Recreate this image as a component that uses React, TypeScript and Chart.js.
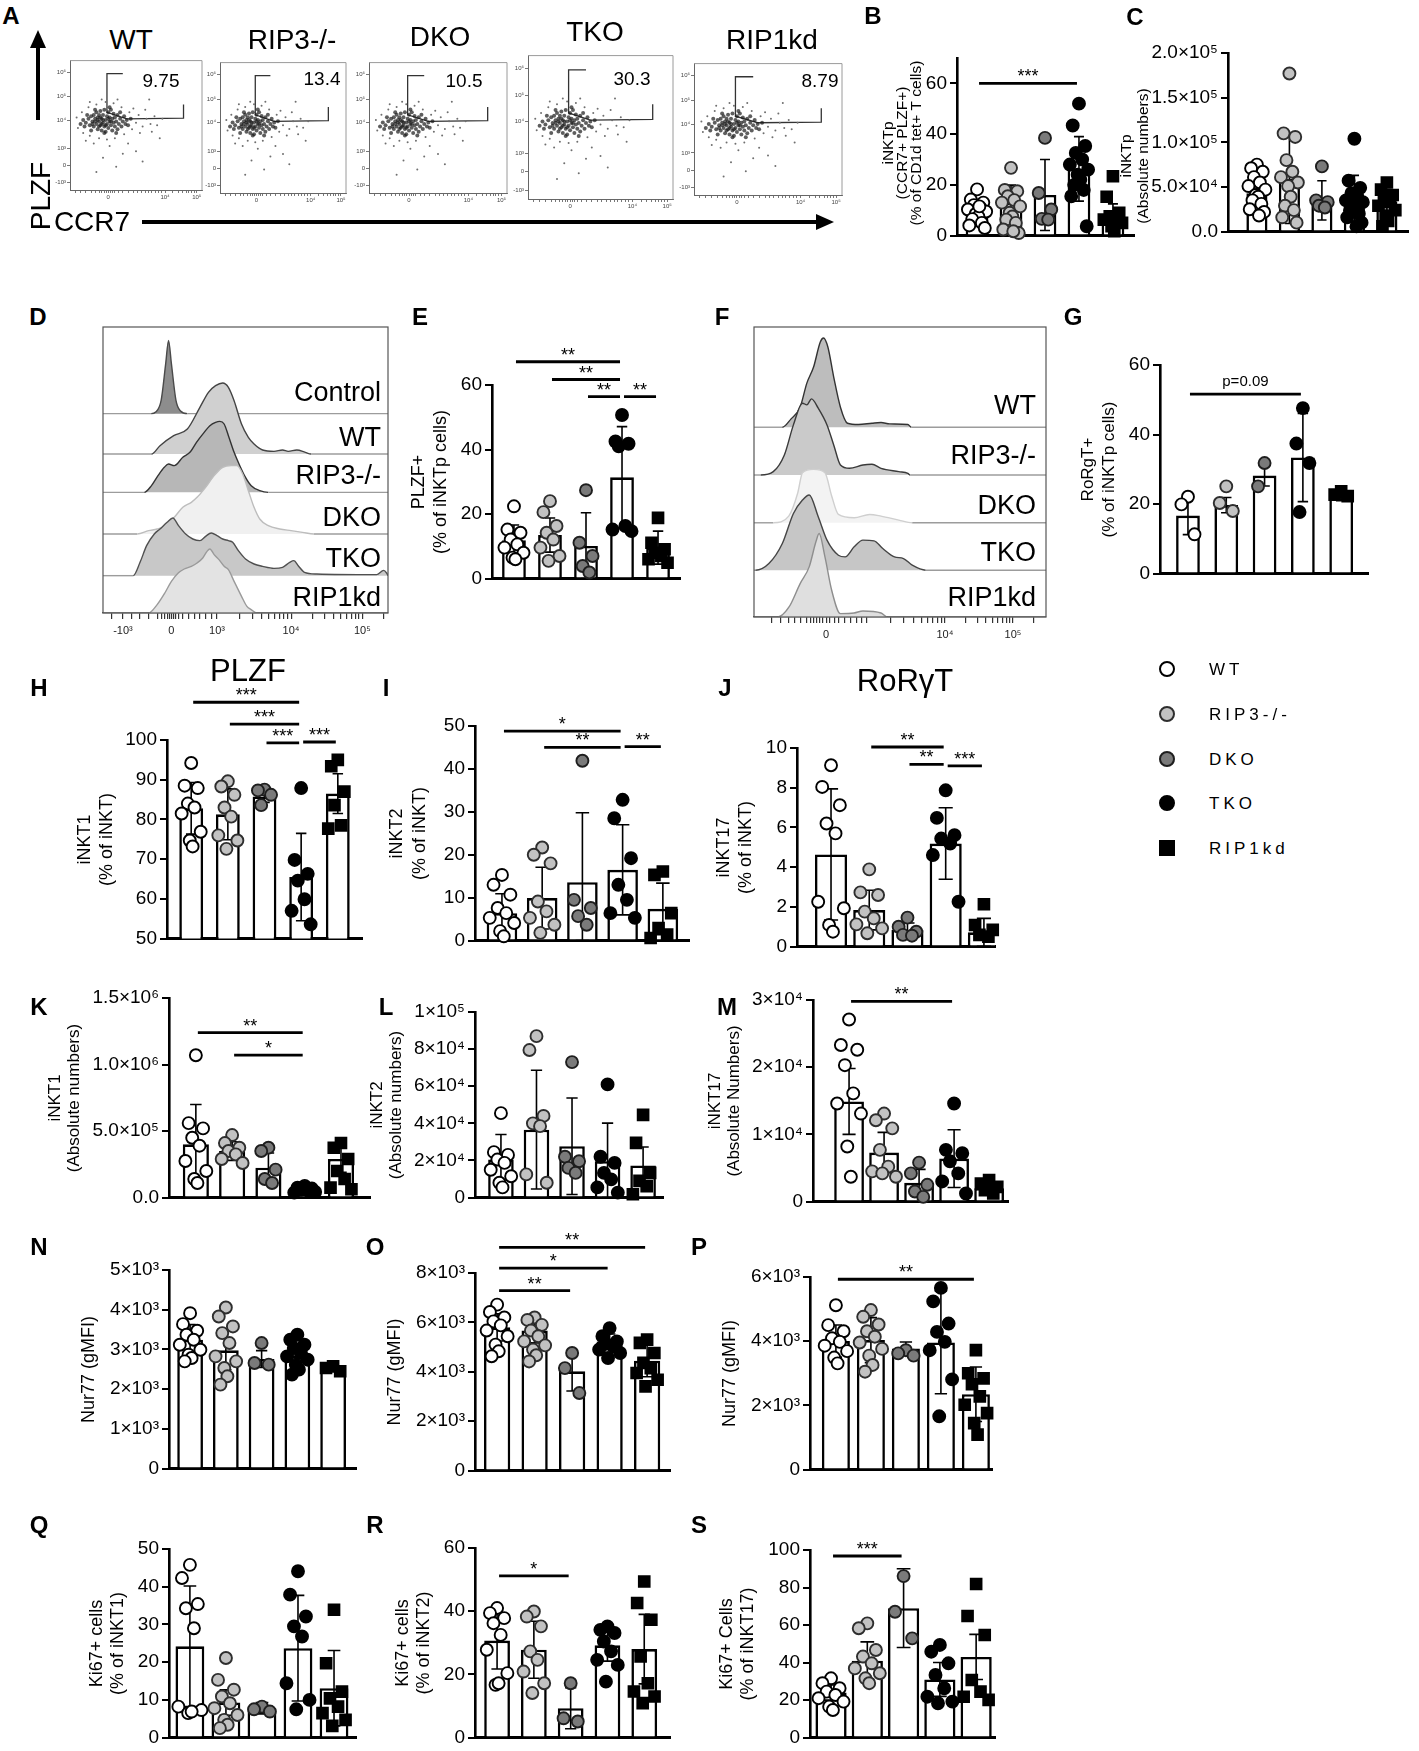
import React, { useEffect, useRef } from "react";
import { Chart, registerables } from "chart.js";

Chart.register(...registerables);

const FONT = "'Liberation Sans', Arial, Helvetica, sans-serif";
Chart.defaults.font.family = FONT;
Chart.defaults.color = "#000";

const GROUPS = ["WT", "RIP3-/-", "DKO", "TKO", "RIP1kd"];

// ---------- bar panels: means, SD, individual mice, significance ----------
const B_MEAN = [10.3, 12.9, 16.0, 26.3, 8.0];
const B_SD = [4.0, 7.0, 14.0, 12.7, 4.5];
const B_PTS = [
  [18.2, 14.2, 13, 12, 11, 10.3, 9.5, 8.5, 7.5, 6.5, 5, 4, 3, 11.5],
  [26.7, 18, 17.5, 15.5, 14, 13, 11.5, 9, 7.5, 6.3, 5, 2.4, 1, 1.7],
  [38.5, 16.8, 10.3, 6.6, 6.3],
  [52, 43.4, 35.3, 32.6, 30, 28, 26, 24, 22, 20, 18, 15.5, 3.7],
  [23.4, 15.3, 9, 7.6, 7, 6.3, 5, 3.7, 1.7],
];
const B_SIG = [[0, 3, 60, "***"]];
const B_TICKS = [0, 20, 40, 60];
const B_LABELS = ["0", "20", "40", "60"];

const C_MEAN = [4.3e4, 5.9e4, 3.5e4, 3.4e4, 3.4e4];
const C_SD = [1.2e4, 5.0e4, 2.2e4, 2.9e4, 1.3e4];
const C_PTS = [
  [7.5e4, 7.1e4, 6.7e4, 6.1e4, 5.5e4, 5.1e4, 4.7e4, 4.1e4, 3.9e4, 3.5e4, 3.1e4, 2.5e4, 2.2e4, 1.8e4],
  [1.77e5, 1.1e5, 1.06e5, 8.0e4, 6.7e4, 6.1e4, 5.5e4, 5.1e4, 3.9e4, 2.9e4, 2.4e4, 1.6e4, 1.0e4],
  [7.3e4, 3.5e4, 3.3e4, 2.9e4, 2.7e4],
  [1.04e5, 5.7e4, 4.9e4, 4.3e4, 3.9e4, 3.5e4, 3.3e4, 3.1e4, 2.7e4, 2.4e4, 2.0e4, 1.6e4, 1.0e4, 6e3],
  [5.5e4, 4.7e4, 4.1e4, 3.7e4, 3.3e4, 2.9e4, 2.4e4, 1.8e4, 1.2e4, 6e3],
];
const C_TICKS = [0, 5e4, 1e5, 1.5e5, 2e5];
const C_LABELS = ["0.0", "5.0×10⁴", "1.0×10⁵", "1.5×10⁵", "2.0×10⁵"];

const E_MEAN = [11.9, 13.5, 10.1, 31.4, 9.6];
const E_SD = [4.7, 5.3, 10.3, 15.7, 5.1];
const E_PTS = [
  [22.4, 15.2, 14.2, 12.1, 10.6, 9.6, 8, 6.5, 6],
  [24, 20.6, 16.3, 14.2, 12.1, 9.6, 7, 5.5],
  [27.4, 11.1, 7, 3.9, 1.9],
  [50.7, 42.5, 41.8, 41, 16.3, 15.2, 14.7],
  [18.8, 11.1, 9.1, 8, 7, 6, 4.9],
];
const E_SIG = [[0, 3, 67.2, "**"], [1, 3, 61.7, "**"], [2, 3, 56.4, "**"], [3, 4, 56.4, "**"]];
const E_TICKS = [0, 20, 40, 60];
const E_LABELS = ["0", "20", "40", "60"];

const G_MEAN = [16.7, 19.7, 28.2, 33.4, 22.5];
const G_SD = [5.5, 2.2, 3.0, 12.7, 1.5];
const G_PTS = [
  [22.1, 19.9, 11.3],
  [25.1, 20.3, 18],
  [31.8, 25.1],
  [47.6, 37.4, 31.8, 17.7],
  [23.7, 22.7, 22.3],
];
const G_SIG = [[0, 3, 51.6, "p=0.09"]];
const G_TICKS = [0, 20, 40, 60];
const G_LABELS = ["0", "20", "40", "60"];

const H_MEAN = [82.8, 81.3, 85.8, 65.5, 86.5];
const H_SD = [6.5, 6.4, 1.5, 11.0, 5.0];
const H_PTS = [
  [94.2, 88.5, 87.9, 84, 83, 81.5, 76.9, 74.7, 73.2],
  [89.6, 88.3, 86.2, 83, 80.7, 76, 74.7, 72.6],
  [87.5, 87.3, 86.2, 83.6],
  [87.9, 69.8, 66.3, 64.6, 59.9, 57, 53.6],
  [95, 93.4, 87, 83.6, 78.5, 77.7],
];
const H_SIG = [[0, 3, 109.5, "***"], [1, 3, 104, "***"], [2, 3, 99.3, "***"], [3, 4, 99.5, "***"]];
const H_TICKS = [50, 60, 70, 80, 90, 100];
const H_LABELS = ["50", "60", "70", "80", "90", "100"];

const I_MEAN = [6.4, 9.9, 13.6, 16.5, 7.4];
const I_SD = [4.5, 7.2, 16.2, 10.5, 6.0];
const I_PTS = [
  [15.3, 13, 10.7, 7.6, 6.4, 5.3, 4.1, 2.2, 1],
  [21.7, 20, 18, 9.1, 6.8, 5.3, 3.7, 1.8],
  [41.9, 9.5, 7.6, 5.7, 3.7],
  [32.8, 28.5, 19.2, 13, 9.5, 6.4, 5.3],
  [16.1, 15.3, 6.4, 2.9, 1.4, 0.6],
];
const I_SIG = [[0, 3, 48.8, "*"], [1, 3, 45, "**"], [3, 4, 45.2, "**"]];
const I_TICKS = [0, 10, 20, 30, 40, 50];
const I_LABELS = ["0", "10", "20", "30", "40", "50"];

const J_MEAN = [4.64, 1.84, 0.84, 5.19, 0.72];
const J_SD = [3.3, 1.0, 0.35, 1.8, 0.7];
const J_PTS = [
  [9.13, 8.04, 7.12, 6.2, 5.7, 2.26, 1.93, 1.09, 0.75],
  [3.89, 2.73, 2.6, 1.76, 1.42, 1.12, 0.92, 0.67],
  [1.46, 1.0, 0.75, 0.59, 0.55],
  [7.87, 6.48, 5.61, 5.44, 5.19, 4.61, 2.26],
  [2.13, 1.09, 0.84, 0.59, 0.5],
];
const J_SIG = [[1, 3, 10.05, "**"], [2, 3, 9.18, "**"], [3, 4, 9.1, "***"]];
const J_TICKS = [0, 2, 4, 6, 8, 10];
const J_LABELS = ["0", "2", "4", "6", "8", "10"];

const K_MEAN = [4.0e5, 3.5e5, 2.25e5, 6e4, 2.9e5];
const K_SD = [3.0e5, 0.7e5, 1.1e5, 1.5e4, 1.0e5];
const K_PTS = [
  [1.07e6, 5.6e5, 5.2e5, 4.5e5, 3.9e5, 2.75e5, 2e5, 1.4e5, 1.1e5],
  [4.7e5, 4.1e5, 3.75e5, 3.5e5, 3.25e5, 2.9e5, 2.6e5],
  [3.75e5, 3.5e5, 2.1e5, 1.4e5, 1.1e5],
  [8.8e4, 7.5e4, 6.8e4, 5.8e4, 5e4, 3.8e4, 4.3e4],
  [4.1e5, 3.75e5, 2.9e5, 2e5, 1.4e5, 7.5e4, 6.3e4],
];
const K_SIG = [[0, 3, 1.24e6, "**"], [1, 3, 1.07e6, "*"]];
const K_TICKS = [0, 5e5, 1e6, 1.5e6];
const K_LABELS = ["0.0", "5.0×10⁵", "1.0×10⁶", "1.5×10⁶"];

const L_MEAN = [2.05e4, 3.66e4, 2.77e4, 1.96e4, 1.73e4];
const L_SD = [1.35e4, 3.2e4, 2.6e4, 2.05e4, 1.0e4];
const L_PTS = [
  [4.55e4, 2.45e4, 2.3e4, 2.05e4, 1.87e4, 1.5e4, 1.15e4, 0.8e4, 0.55e4],
  [8.7e4, 7.95e4, 4.4e4, 4.0e4, 3.85e4, 1.25e4, 0.8e4],
  [7.3e4, 2.2e4, 1.96e4, 1.6e4, 1.33e4],
  [6.1e4, 2.2e4, 1.87e4, 1.33e4, 0.98e4, 0.55e4, 0.27e4],
  [4.46e4, 2.95e4, 1.33e4, 0.9e4, 0.62e4, 0.18e4],
];
const L_TICKS = [0, 2e4, 4e4, 6e4, 8e4, 1e5];
const L_LABELS = ["0", "2×10⁴", "4×10⁴", "6×10⁴", "8×10⁴", "1×10⁵"];

const M_MEAN = [1.49e4, 7.3e3, 2.8e3, 6.4e3, 2.0e3];
const M_SD = [4.9e3, 3.0e3, 2.0e3, 4.3e3, 0.5e3];
const M_PTS = [
  [2.71e4, 2.33e4, 2.26e4, 2.03e4, 1.61e4, 1.46e4, 1.31e4, 8.2e3, 3.7e3],
  [1.31e4, 1.21e4, 1.09e4, 7.7e3, 5.2e3, 4.5e3, 3.7e3, 4.2e3],
  [5.8e3, 4.2e3, 2.5e3, 1.5e3, 0.7e3],
  [1.46e4, 7.7e3, 7.2e3, 6e3, 4.2e3, 3e3, 1.2e3],
  [3.2e3, 2.7e3, 2.2e3, 1.7e3, 1.2e3],
];
const M_SIG = [[0, 3, 2.98e4, "**"]];
const M_TICKS = [0, 1e4, 2e4, 3e4];
const M_LABELS = ["0", "1×10⁴", "2×10⁴", "3×10⁴"];

const N_MEAN = [3244, 2977, 2759, 2851, 2550];
const N_SD = [380, 490, 210, 270, 100];
const N_PTS = [
  [3913, 3637, 3470, 3370, 3244, 3119, 2993, 2868, 2784, 2700],
  [4055, 3830, 3579, 3411, 3161, 2826, 2700, 2533, 2324, 2115],
  [3161, 2659, 2617],
  [3370, 3244, 3119, 3035, 2910, 2826, 2742, 2617, 2491, 2366],
  [2575, 2533, 2450],
];
const N_TICKS = [0, 1000, 2000, 3000, 4000, 5000];
const N_LABELS = ["0", "1×10³", "2×10³", "3×10³", "4×10³", "5×10³"];

const O_MEAN = [5800, 5670, 4020, 5230, 4450];
const O_SD = [550, 500, 800, 300, 650];
const O_PTS = [
  [6720, 6420, 6200, 6040, 5880, 5670, 5440, 5100, 4830, 4630],
  [6200, 6100, 5900, 5670, 5440, 5230, 5070, 4900, 4670, 4420],
  [4760, 4150, 3140],
  [5770, 5440, 5230, 5130, 5030, 4900, 4760, 4560],
  [5300, 5170, 4760, 4360, 4150, 3950, 3680, 3410],
];
const O_SIG = [[0, 2, 7290, "**"], [0, 3, 8200, "*"], [0, 4, 9040, "**"]];
const O_TICKS = [0, 2000, 4000, 6000, 8000];
const O_LABELS = ["0", "2×10³", "4×10³", "6×10³", "8×10³"];

const P_MEAN = [4003, 4034, 3776, 3962, 2348];
const P_SD = [500, 700, 200, 1600, 850];
const P_PTS = [
  [5120, 4500, 4310, 4090, 3980, 3860, 3690, 3490, 3310],
  [4970, 4760, 4520, 4310, 4140, 3960, 3760, 3550, 3260, 3050],
  [3720, 3620, 3550],
  [5660, 5240, 4550, 4290, 3980, 3720, 2810, 1660],
  [3720, 3000, 2840, 2660, 2280, 2020, 1760, 1450, 1090],
];
const P_SIG = [[0, 4, 5930, "**"]];
const P_TICKS = [0, 2000, 4000, 6000];
const P_LABELS = ["0", "2×10³", "4×10³", "6×10³"];

const Q_MEAN = [24.2, 9.3, 7.8, 23.7, 13.1];
const Q_SD = [16, 3.4, 1.5, 14, 10];
const Q_PTS = [
  [45.8, 42.3, 35.4, 34.3, 29, 8.2, 7.3, 6.5, 6.9],
  [21.1, 15.3, 12.7, 10.9, 9.1, 7.8, 6, 4.7, 3.4, 2.5],
  [8.2, 7.5, 6.9],
  [44.1, 37.9, 32.1, 29.5, 26.8, 14.4, 10, 7.5],
  [33.9, 19.7, 12.2, 10.4, 8.2, 6.5, 4.7, 3.1],
];
const Q_TICKS = [0, 10, 20, 30, 40, 50];
const Q_LABELS = ["0", "10", "20", "30", "40", "50"];

const R_MEAN = [30.7, 27.8, 9.3, 29.2, 28];
const R_SD = [9, 9, 6.5, 5, 11];
const R_PTS = [
  [41, 39.4, 37.8, 36.2, 32.5, 27.8, 20.4, 16.7, 17.2],
  [39.9, 38.3, 35.2, 27.3, 24.6, 20.9, 17.2, 14.1],
  [17.2, 6.1, 5.1],
  [35.2, 34.1, 33.1, 30.4, 27.3, 24.6, 23, 17.7],
  [49.4, 42.6, 37.3, 25.7, 17.2, 14.6, 13, 10.9],
];
const R_SIG = [[0, 2, 51.2, "*"]];
const R_TICKS = [0, 20, 40, 60];
const R_LABELS = ["0", "20", "40", "60"];

const S_MEAN = [24, 41, 69, 31, 43];
const S_SD = [4, 10, 21, 9, 12];
const S_PTS = [
  [31.6, 29, 26.3, 24.5, 22.7, 21, 19.2, 16.5, 14.7],
  [60.9, 58.3, 46.7, 43.2, 39.6, 36.9, 34.3, 31.6, 29],
  [86.1, 67.1, 52.9],
  [49.4, 45.8, 39.6, 33.4, 26.3, 21.8, 19.2, 18.3],
  [81.9, 64.8, 54.7, 30.7, 24.5, 21.8, 20.1],
];
const S_SIG = [[0, 2, 96.8, "***"]];
const S_TICKS = [0, 20, 40, 60, 80, 100];
const S_LABELS = ["0", "20", "40", "60", "80", "100"];

// ---------- histograms (D: PLZF, F: RoRgT), [x %, height] ----------
const D_CONTROL = [[16.9, 0], [18.5, 5], [20.4, 40], [22, 150], [23, 220], [24, 150], [25.6, 40], [27.2, 8], [29.6, 0]];
const D_WT = [[17, 0], [20, 25], [24.8, 55], [29.6, 75], [34, 140], [37, 185], [39.5, 205], [42, 213], [44, 200], [46, 160], [48.6, 90], [51, 50], [53, 30], [56, 12], [60, 8], [63, 12], [65, 8], [68, 12], [71, 5], [73, 0]];
const D_RIP3 = [[14.5, 0], [17, 20], [19.3, 50], [21.5, 75], [23, 85], [25, 80], [28, 105], [30.5, 120], [32.8, 150], [35.5, 180], [37.5, 200], [39.5, 210], [41, 213], [42.5, 205], [44, 170], [46, 120], [48, 80], [50, 45], [52, 20], [55, 5], [58, 0]];
const D_DKO = [[12, 0], [16, 10], [19, 15], [22, 25], [25, 50], [28, 80], [31, 95], [33, 110], [36, 140], [39, 175], [42, 200], [45, 205], [47, 205], [49, 180], [51, 130], [53, 80], [55, 45], [58, 25], [62, 15], [66, 10], [70, 5], [74, 0]];
const D_TKO = [[10.6, 0], [13, 40], [15.3, 90], [18, 125], [20, 140], [22.5, 160], [24.5, 173], [26.5, 150], [29, 125], [31.5, 110], [34, 105], [36, 118], [38, 128], [40, 120], [42, 110], [44, 105], [45.5, 100], [47.5, 75], [50, 50], [53, 35], [56, 28], [60, 22], [63, 25], [65.5, 40], [67, 45], [68.5, 30], [70.7, 10], [75, 5], [96, 3], [98.5, 16], [99.5, 8]];
const D_RIP1KD = [[16, 0], [19, 25], [21.7, 60], [24, 95], [26.4, 120], [28.5, 132], [31, 140], [33, 150], [35, 165], [36.5, 185], [37.5, 192], [39, 175], [40.7, 160], [42.5, 140], [44, 130], [46, 95], [48.6, 50], [50.5, 20], [52, 10], [54, 0]];
const D_MAJOR = [7, 24, 40, 66, 91];
const D_MAJOR_LABELS = ["-10³", "0", "10³", "10⁴", "10⁵"];
const D_MINOR = [3, 10, 13, 16, 19, 20.5, 21.5, 22.5, 23.2, 24.8, 25.5, 26.5, 28, 30, 32, 34, 36, 38, 47.8, 52.4, 55.7, 58.2, 60.2, 62, 63.5, 64.8, 73.5, 77.9, 81, 83.5, 85.4, 87.1, 88.6, 89.8, 98.5];

const F_WT = [[9.7, 0], [12.7, 25], [15.8, 60], [18.1, 132], [20.4, 180], [22.7, 255], [23.8, 267], [25.3, 240], [27.3, 150], [29.6, 60], [32, 12], [35.8, 8], [40.4, 12], [43.5, 14], [46.5, 10], [52.7, 8], [53.9, 0]];
const F_RIP3 = [[2.3, 0], [6.6, 10], [10.4, 60], [13.5, 150], [16.6, 215], [18.1, 210], [19.7, 228], [22, 200], [25, 150], [27.3, 90], [29.6, 30], [32.7, 20], [37.3, 30], [40.4, 32], [43.5, 20], [49.6, 10], [52.7, 5], [53.5, 0]];
const F_DKO = [[6.6, 0], [11.9, 20], [15, 90], [16.6, 150], [20.4, 160], [24.3, 150], [26.6, 80], [28.9, 25], [34.3, 15], [39.6, 25], [43.5, 20], [49.6, 8], [54.2, 0]];
const F_TKO = [[0.5, 0], [5.1, 20], [9.7, 80], [13.5, 170], [16.6, 210], [18.9, 225], [22, 160], [25, 90], [28.9, 45], [31.2, 40], [34.3, 70], [37.3, 90], [41.1, 88], [44.1, 65], [48.1, 40], [51.2, 35], [54.2, 15], [58.8, 0]];
const F_RIP1KD = [[8.1, 0], [12, 30], [15.8, 100], [18.9, 150], [21.2, 225], [22.3, 250], [24.3, 180], [26.6, 80], [29.6, 10], [34.3, 12], [37.3, 18], [43.5, 12], [45.8, 0]];
const F_MAJOR = [24.7, 38.6, 65.4, 88.7];
const F_MAJOR_LABELS = ["0", "", "10⁴", "10⁵"];
const F_MINOR = [6, 9, 12, 14, 16, 18, 19.5, 20.5, 21.5, 22.5, 23.5, 26, 27.5, 29, 31, 33, 35, 37, 46.7, 51.4, 54.7, 57.4, 59.5, 61.2, 62.8, 64.1, 72.4, 76.5, 79.4, 81.7, 83.5, 85.1, 86.4, 87.6, 95.7];

// ---------- flow plots (A), CCR7 x PLZF in display % ----------
const CLOUD_CORE = [[12, 52], [14, 55], [15, 50], [16, 57], [17, 53], [18, 49], [18, 58], [19, 55], [20, 51], [20, 60], [21, 47], [21, 56], [22, 53], [22, 58], [23, 50], [23, 61], [24, 46], [24, 55], [25, 52], [25, 58], [26, 49], [26, 62], [27, 54], [27, 45], [28, 57], [28, 51], [29, 60], [29, 48], [30, 53], [30, 56], [31, 50], [31, 62], [32, 46], [32, 55], [33, 52], [33, 59], [34, 49], [34, 56], [35, 53], [36, 47], [36, 58], [37, 51], [38, 55], [39, 49], [40, 53], [41, 57], [42, 51], [43, 54], [10, 54], [11, 49], [13, 58], [16, 46], [19, 62], [26, 44], [30, 64], [35, 44], [38, 60], [44, 50], [46, 55], [8, 51], [17, 51], [19, 53], [21, 54], [23, 56], [25, 54], [27, 50], [29, 55], [31, 53], [24, 51], [22, 49]];
const CLOUD_HALO = [[5, 56], [6, 48], [9, 60], [10, 44], [14, 64], [15, 42], [20, 66], [22, 40], [27, 68], [28, 39], [33, 67], [34, 40], [39, 64], [41, 43], [45, 60], [47, 47], [50, 52], [52, 58], [55, 49], [58, 55], [61, 51], [64, 57], [48, 63], [53, 44], [57, 62], [62, 45], [66, 50], [70, 55], [36, 70], [24, 70], [18, 36], [30, 34], [44, 36], [40, 28], [25, 25], [50, 30], [35, 18], [55, 22], [20, 14], [60, 70], [68, 40], [15, 68], [12, 38]];
const GATE = [[40, 90], [28, 90], [28, 60], [43, 55], [86, 55.5], [86, 66]];
const FLOW_X_MAJOR = [29, 72, 96];
const FLOW_X_LABELS = ["0", "10⁴", "10⁵"];
const FLOW_X_MINOR = [4, 8, 12, 16, 19, 22, 24, 26, 27.5, 30.5, 32, 34, 37, 40, 44, 48, 51, 54, 57, 59.5, 62, 64.5, 67, 69.5, 78, 82, 85, 88, 90, 92, 94];
const FLOW_Y_MAJOR = [6, 19, 32, 54, 72, 91];
const FLOW_Y_LABELS = ["-10³", "0", "10³", "10⁴", "10⁵", "10⁶"];
const FLOW_NAMES = ["WT", "RIP3-/-", "DKO", "TKO", "RIP1kd"];
const FLOW_PCT = ["9.75", "13.4", "10.5", "30.3", "8.79"];

// ---------- styles ----------
const MARKERS = [
  { fill: "#ffffff", line: "#000000", shape: "circle", r: 6 },
  { fill: "#c2c2c2", line: "#2e2e2e", shape: "circle", r: 6 },
  { fill: "#7a7a7a", line: "#1e1e1e", shape: "circle", r: 6 },
  { fill: "#000000", line: "#000000", shape: "circle", r: 6 },
  { fill: "#000000", line: "#000000", shape: "rect", r: 7.6 },
];
const JITTER = [0, -0.55, 0.55, -0.28, 0.28, -0.8, 0.8, -0.12, 0.12, -0.42, 0.42, -0.68, 0.68, 0.2];

interface BarSpec {
  axisX: number; endX: number; topY: number; zeroY: number;
  yMin: number; yMax: number; xMin: number; xMax: number; barPct: number;
  mean: number[]; sd: number[]; points: number[][]; sig: any[];
  ticks: number[]; labels: string[];
  title: string[]; titleX: number; titleDx: number; titleY?: number; titleSize: number;
}

const t = (size: number, bold = false) => `${bold ? "bold " : ""}${size}px ${FONT}`;

const PANELS: BarSpec[] = [
  { axisX: 957, endX: 1134, topY: 58, zeroY: 236, yMin: 0, yMax: 70, xMin: -0.59, xMax: 4.62, barPct: 0.67, mean: B_MEAN, sd: B_SD, points: B_PTS, sig: B_SIG, ticks: B_TICKS, labels: B_LABELS, title: ["iNKTp", "(CCR7+ PLZF+)", "(% of CD1d tet+ T cells)"], titleX: 889, titleDx: 14, titleY: 143, titleSize: 15.5 },
  { axisX: 1228, endX: 1408, topY: 53, zeroY: 232, yMin: 0, yMax: 2e5, xMin: -0.89, xMax: 4.65, barPct: 0.65, mean: C_MEAN, sd: C_SD, points: C_PTS, sig: [], ticks: C_TICKS, labels: C_LABELS, title: ["iNKTp", "(Absolute numbers)"], titleX: 1127, titleDx: 17, titleY: 156, titleSize: 15.5 },
  { axisX: 492, endX: 680, topY: 385, zeroY: 579, yMin: 0, yMax: 60, xMin: -0.61, xMax: 4.61, barPct: 0.66, mean: E_MEAN, sd: E_SD, points: E_PTS, sig: E_SIG, ticks: E_TICKS, labels: E_LABELS, title: ["PLZF+", "(% of iNKTp cells)"], titleX: 419, titleDx: 22, titleSize: 18 },
  { axisX: 1160, endX: 1368, topY: 365, zeroY: 574, yMin: 0, yMax: 60, xMin: -0.73, xMax: 4.7, barPct: 0.62, mean: G_MEAN, sd: G_SD, points: G_PTS, sig: G_SIG, ticks: G_TICKS, labels: G_LABELS, title: ["RoRgT+", "(% of iNKTp cells)"], titleX: 1088, titleDx: 21, titleSize: 17 },
  { axisX: 167, endX: 362, topY: 740, zeroY: 939, yMin: 50, yMax: 100, xMin: -0.66, xMax: 4.66, barPct: 0.65, mean: H_MEAN, sd: H_SD, points: H_PTS, sig: H_SIG, ticks: H_TICKS, labels: H_LABELS, title: ["iNKT1", "(% of iNKT)"], titleX: 85, titleDx: 22, titleSize: 18 },
  { axisX: 475, endX: 689, topY: 726, zeroY: 941, yMin: 0, yMax: 50, xMin: -0.67, xMax: 4.65, barPct: 0.76, mean: I_MEAN, sd: I_SD, points: I_PTS, sig: I_SIG, ticks: I_TICKS, labels: I_LABELS, title: ["iNKT2", "(% of iNKT)"], titleX: 397, titleDx: 23, titleSize: 18 },
  { axisX: 797, endX: 995, topY: 748, zeroY: 947, yMin: 0, yMax: 10, xMin: -0.89, xMax: 4.29, barPct: 0.84, mean: J_MEAN, sd: J_SD, points: J_PTS, sig: J_SIG, ticks: J_TICKS, labels: J_LABELS, title: ["iNKT17", "(% of iNKT)"], titleX: 724, titleDx: 22, titleSize: 18 },
  { axisX: 169, endX: 370, topY: 998, zeroY: 1198, yMin: 0, yMax: 1.5e6, xMin: -0.74, xMax: 4.8, barPct: 0.72, mean: K_MEAN, sd: K_SD, points: K_PTS, sig: K_SIG, ticks: K_TICKS, labels: K_LABELS, title: ["iNKT1", "(Absolute numbers)"], titleX: 55, titleDx: 19, titleSize: 17 },
  { axisX: 475, endX: 663, topY: 1012, zeroY: 1198, yMin: 0, yMax: 1e5, xMin: -0.73, xMax: 4.56, barPct: 0.72, mean: L_MEAN, sd: L_SD, points: L_PTS, sig: [], ticks: L_TICKS, labels: L_LABELS, title: ["iNKT2", "(Absolute numbers)"], titleX: 377, titleDx: 19, titleSize: 17 },
  { axisX: 813, endX: 1008, topY: 1000, zeroY: 1202, yMin: 0, yMax: 3e4, xMin: -1.03, xMax: 4.54, barPct: 0.85, mean: M_MEAN, sd: M_SD, points: M_PTS, sig: M_SIG, ticks: M_TICKS, labels: M_LABELS, title: ["iNKT17", "(Absolute Numbers)"], titleX: 715, titleDx: 19, titleSize: 17 },
  { axisX: 169, endX: 356, topY: 1270, zeroY: 1469, yMin: 0, yMax: 5000, xMin: -0.59, xMax: 4.64, barPct: 0.72, mean: N_MEAN, sd: N_SD, points: N_PTS, sig: [], ticks: N_TICKS, labels: N_LABELS, title: ["Nur77 (gMFI)"], titleX: 89, titleDx: 0, titleSize: 18 },
  { axisX: 475, endX: 670, topY: 1273, zeroY: 1471, yMin: 0, yMax: 8000, xMin: -0.59, xMax: 4.61, barPct: 0.7, mean: O_MEAN, sd: O_SD, points: O_PTS, sig: O_SIG, ticks: O_TICKS, labels: O_LABELS, title: ["Nur77 (gMFI)"], titleX: 395, titleDx: 0, titleSize: 18 },
  { axisX: 810, endX: 992, topY: 1277, zeroY: 1470, yMin: 0, yMax: 6000, xMin: -0.74, xMax: 4.46, barPct: 0.8, mean: P_MEAN, sd: P_SD, points: P_PTS, sig: P_SIG, ticks: P_TICKS, labels: P_LABELS, title: ["Nur77 (gMFI)"], titleX: 730, titleDx: 0, titleSize: 18 },
  { axisX: 169, endX: 356, topY: 1549, zeroY: 1738, yMin: 0, yMax: 50, xMin: -0.58, xMax: 4.61, barPct: 0.8, mean: Q_MEAN, sd: Q_SD, points: Q_PTS, sig: [], ticks: Q_TICKS, labels: Q_LABELS, title: ["Ki67+ cells", "(% of iNKT1)"], titleX: 97, titleDx: 21, titleSize: 18 },
  { axisX: 475, endX: 670, topY: 1548, zeroY: 1738, yMin: 0, yMax: 60, xMin: -0.6, xMax: 4.7, barPct: 0.7, mean: R_MEAN, sd: R_SD, points: R_PTS, sig: R_SIG, ticks: R_TICKS, labels: R_LABELS, title: ["Ki67+ cells", "(% of iNKT2)"], titleX: 403, titleDx: 21, titleSize: 18 },
  { axisX: 810, endX: 995, topY: 1550, zeroY: 1738, yMin: 0, yMax: 100, xMin: -0.58, xMax: 4.52, barPct: 0.86, mean: S_MEAN, sd: S_SD, points: S_PTS, sig: S_SIG, ticks: S_TICKS, labels: S_LABELS, title: ["Ki67+ Cells", "(% of iNKT17)"], titleX: 727, titleDx: 21, titleSize: 18 },
];

const BarPanel: React.FC<{ p: BarSpec }> = ({ p }) => {
  const ref = useRef<HTMLCanvasElement | null>(null);
  const left = p.axisX - 150;
  const top = p.topY - 80;
  const width = p.endX + 14 - left;
  const height = p.zeroY + 14 - top;

  useEffect(() => {
    if (!ref.current) return;
    const extras = {
      id: "extras",
      afterDatasetDraw(chart: any, args: any) {
        if (args.index !== 0) return;
        const { ctx } = chart;
        const xs = chart.scales.x;
        const ys = chart.scales.y;
        const meta = chart.getDatasetMeta(0);
        ctx.save();
        ctx.strokeStyle = "#000";
        ctx.lineWidth = 1.6;
        p.mean.forEach((m, i) => {
          const cx = xs.getPixelForValue(i);
          const hi = ys.getPixelForValue(m + p.sd[i]);
          const lo = ys.getPixelForValue(Math.max(p.yMin, m - p.sd[i]));
          const half = meta.data[i].width * 0.22;
          ctx.beginPath();
          ctx.moveTo(cx, hi); ctx.lineTo(cx, lo);
          ctx.moveTo(cx - half, hi); ctx.lineTo(cx + half, hi);
          ctx.moveTo(cx - half, lo); ctx.lineTo(cx + half, lo);
          ctx.stroke();
        });
        ctx.restore();
      },
      afterDraw(chart: any) {
        const { ctx } = chart;
        const xs = chart.scales.x;
        const ys = chart.scales.y;
        ctx.save();
        ctx.strokeStyle = "#000";
        ctx.fillStyle = "#000";
        ctx.lineWidth = 2.8;
        ctx.textAlign = "center";
        ctx.textBaseline = "alphabetic";
        p.sig.forEach(([a, b, v, label]: any) => {
          const x1 = xs.getPixelForValue(a) + 2;
          const x2 = xs.getPixelForValue(b) - 2;
          const y = ys.getPixelForValue(v);
          ctx.beginPath();
          ctx.moveTo(x1, y); ctx.lineTo(x2, y);
          ctx.stroke();
          const isP = String(label).startsWith("p");
          ctx.font = isP ? t(15) : t(18);
          ctx.fillText(label, (x1 + x2) / 2, y - (isP ? 8 : 1));
        });
        ctx.font = t(p.titleSize);
        ctx.textBaseline = "middle";
        const ty = p.titleY !== undefined ? p.titleY : (p.topY + p.zeroY) / 2;
        ctx.translate(p.titleX - left, ty - top);
        ctx.rotate(-Math.PI / 2);
        p.title.forEach((line, k) => ctx.fillText(line, 0, k * p.titleDx));
        ctx.restore();
      },
    };

    const chart = new Chart(ref.current, {
      type: "bar",
      data: {
        datasets: [
          {
            type: "bar",
            data: p.mean.map((m, i) => ({ x: i, y: m })),
            backgroundColor: "#ffffff",
            borderColor: "#000000",
            borderWidth: 2.6,
            barPercentage: p.barPct,
            categoryPercentage: 1,
            order: 10,
          },
          ...p.points.map((vals, g) => ({
            type: "scatter",
            data: vals.map((v, k) => ({ x: g + JITTER[k % JITTER.length] * p.barPct * 0.5, y: v })),
            pointStyle: MARKERS[g].shape,
            pointRadius: MARKERS[g].r,
            pointBackgroundColor: MARKERS[g].fill,
            pointBorderColor: MARKERS[g].line,
            pointBorderWidth: 1.9,
            clip: false,
            order: g,
            label: GROUPS[g],
          })),
        ] as any,
      },
      options: {
        animation: false,
        responsive: false,
        maintainAspectRatio: false,
        layout: { padding: { left: 0, top: p.topY - top, right: 14, bottom: 14 } },
        plugins: { legend: { display: false }, tooltip: { enabled: false } },
        scales: {
          x: {
            type: "linear",
            min: p.xMin,
            max: p.xMax,
            offset: false,
            ticks: { display: false },
            grid: { display: false, offset: false },
            border: { display: true, color: "#000", width: 3 },
            afterFit: (s: any) => { s.height = 0; },
          },
          y: {
            type: "linear",
            min: p.yMin,
            max: p.yMax,
            afterBuildTicks: (s: any) => { s.ticks = p.ticks.map((v) => ({ value: v })); },
            afterFit: (s: any) => { s.width = p.axisX - left; },
            ticks: {
              autoSkip: false,
              padding: 3,
              color: "#000",
              font: { family: FONT, size: 19 },
              callback: (_v: any, i: number) => p.labels[i],
            },
            grid: { display: true, drawOnChartArea: false, drawTicks: true, tickLength: 7, color: "#000", lineWidth: 2 },
            border: { display: true, color: "#000", width: 2.6 },
          },
        },
      } as any,
      plugins: [extras],
    });
    return () => chart.destroy();
  }, [p]);

  return <canvas ref={ref} width={width} height={height} style={{ position: "absolute", left, top, width, height }} />;
};

interface Lane { base: number; fill: string; stroke: string; pts: number[][] }
interface HistSpec { box: number[]; yMax: number; lanes: Lane[]; major: number[]; majorLabels: string[]; minor: number[] }

const HISTS: HistSpec[] = [
  {
    box: [103, 327, 388, 613], yMax: 858, major: D_MAJOR, majorLabels: D_MAJOR_LABELS, minor: D_MINOR,
    lanes: [
      { base: 598, fill: "#8d8d8d", stroke: "#4a4a4a", pts: D_CONTROL },
      { base: 477, fill: "#d0d0d0", stroke: "#444", pts: D_WT },
      { base: 362, fill: "#b7b7b7", stroke: "#333", pts: D_RIP3 },
      { base: 237, fill: "#f0f0f0", stroke: "#bdbdbd", pts: D_DKO },
      { base: 112, fill: "#c8c8c8", stroke: "#505050", pts: D_TKO },
      { base: 0, fill: "#e3e3e3", stroke: "#9a9a9a", pts: D_RIP1KD },
    ],
  },
  {
    box: [754, 327, 1046, 617], yMax: 868, major: F_MAJOR, majorLabels: F_MAJOR_LABELS, minor: F_MINOR,
    lanes: [
      { base: 568, fill: "#bdbdbd", stroke: "#333", pts: F_WT },
      { base: 425, fill: "#cacaca", stroke: "#3a3a3a", pts: F_RIP3 },
      { base: 282, fill: "#f3f3f3", stroke: "#cfcfcf", pts: F_DKO },
      { base: 140, fill: "#c6c6c6", stroke: "#454545", pts: F_TKO },
      { base: 0, fill: "#dfdfdf", stroke: "#8e8e8e", pts: F_RIP1KD },
    ],
  },
];

const HistPanel: React.FC<{ h: HistSpec }> = ({ h }) => {
  const ref = useRef<HTMLCanvasElement | null>(null);
  const [bl, bt, br, bb] = h.box;
  const left = bl - 12;
  const top = bt - 6;
  const width = br - bl + 24;
  const height = bb - bt + 6 + 34;

  useEffect(() => {
    if (!ref.current) return;
    const frame = {
      id: "frame",
      afterDraw(chart: any) {
        const { ctx, chartArea: a } = chart;
        ctx.save();
        ctx.strokeStyle = "#555";
        ctx.lineWidth = 1.2;
        ctx.strokeRect(a.left, a.top, a.right - a.left, a.bottom - a.top);
        ctx.restore();
      },
    };
    const n = h.lanes.length;
    const allTicks = [...h.major, ...h.minor].sort((a, b) => a - b);
    const chart = new Chart(ref.current, {
      type: "line",
      data: {
        datasets: h.lanes.map((ln, k) => ({
          data: [[0, 0], ...ln.pts, [100, 0]].map(([x, y]) => ({ x, y: ln.base + y })),
          fill: { value: ln.base },
          backgroundColor: ln.fill,
          borderColor: ln.stroke,
          borderWidth: 1.4,
          pointRadius: 0,
          cubicInterpolationMode: "monotone",
          order: n - 1 - k,
          segment: {
            borderColor: (c: any) => (c.p0.parsed.y === ln.base && c.p1.parsed.y === ln.base ? "#9c9c9c" : undefined),
          },
        })) as any,
      },
      options: {
        animation: false,
        responsive: false,
        maintainAspectRatio: false,
        layout: { padding: { left: 12, right: 12, top: 6, bottom: 0 } },
        plugins: { legend: { display: false }, tooltip: { enabled: false } },
        scales: {
          x: {
            type: "linear",
            min: 0,
            max: 100,
            afterBuildTicks: (s: any) => { s.ticks = allTicks.map((v) => ({ value: v })); },
            afterFit: (s: any) => { s.height = 34; },
            ticks: {
              autoSkip: false,
              maxRotation: 0,
              minRotation: 0,
              padding: 5,
              color: "#222",
              font: { family: FONT, size: 11 },
              callback: (v: any) => {
                const i = h.major.indexOf(Number(v));
                return i >= 0 ? h.majorLabels[i] : "";
              },
            },
            grid: { display: true, drawOnChartArea: false, drawTicks: true, tickLength: 6, color: "#333", lineWidth: 1.2 },
            border: { display: true, color: "#555", width: 1.2 },
          },
          y: { display: false, min: 0, max: h.yMax },
        },
      } as any,
      plugins: [frame],
    });
    return () => chart.destroy();
  }, [h]);

  return <canvas ref={ref} width={width} height={height} style={{ position: "absolute", left, top, width, height }} />;
};

const FLOW_BOXES = [
  [70, 60, 202, 190],
  [220, 62, 346, 193],
  [369, 62, 507, 193],
  [528, 55, 673, 199],
  [694, 63, 842, 195],
];

const FlowPanel: React.FC<{ box: number[] }> = ({ box }) => {
  const ref = useRef<HTMLCanvasElement | null>(null);
  const [bl, bt, br, bb] = box;
  const left = bl - 24;
  const top = bt - 4;
  const width = br - bl + 28;
  const height = bb - bt + 4 + 16;

  useEffect(() => {
    if (!ref.current) return;
    const frame = {
      id: "flowFrame",
      afterDraw(chart: any) {
        const { ctx, chartArea: a } = chart;
        ctx.save();
        ctx.strokeStyle = "#9a9a9a";
        ctx.lineWidth = 1;
        ctx.beginPath();
        ctx.moveTo(a.left, a.top); ctx.lineTo(a.right, a.top); ctx.lineTo(a.right, a.bottom);
        ctx.stroke();
        ctx.restore();
      },
    };
    const xt = [...FLOW_X_MAJOR, ...FLOW_X_MINOR].sort((a, b) => a - b);
    const chart = new Chart(ref.current, {
      type: "scatter",
      data: {
        datasets: [
          { data: CLOUD_HALO.map(([x, y]) => ({ x, y })), pointRadius: 1, pointBorderWidth: 0, pointBackgroundColor: "#6f6f6f" },
          { data: CLOUD_CORE.map(([x, y]) => ({ x, y })), pointRadius: 2, pointBorderWidth: 0, pointBackgroundColor: "rgba(25,25,25,0.7)" },
          { type: "line", data: GATE.map(([x, y]) => ({ x, y })), borderColor: "#333", borderWidth: 1.3, pointRadius: 0, fill: false, tension: 0 },
        ] as any,
      },
      options: {
        animation: false,
        responsive: false,
        maintainAspectRatio: false,
        layout: { padding: { left: 0, right: 4, top: 4, bottom: 0 } },
        plugins: { legend: { display: false }, tooltip: { enabled: false } },
        scales: {
          x: {
            type: "linear", min: 0, max: 100,
            afterBuildTicks: (s: any) => { s.ticks = xt.map((v) => ({ value: v })); },
            afterFit: (s: any) => { s.height = 16; },
            ticks: {
              autoSkip: false, maxRotation: 0, minRotation: 0, padding: 1, color: "#444",
              font: { family: FONT, size: 6 },
              callback: (v: any) => {
                const i = FLOW_X_MAJOR.indexOf(Number(v));
                return i >= 0 ? FLOW_X_LABELS[i] : "";
              },
            },
            grid: { display: true, drawOnChartArea: false, tickLength: 3, color: "#555", lineWidth: 0.8 },
            border: { display: true, color: "#666", width: 1 },
          },
          y: {
            type: "linear", min: 0, max: 100,
            afterBuildTicks: (s: any) => { s.ticks = FLOW_Y_MAJOR.map((v) => ({ value: v })); },
            afterFit: (s: any) => { s.width = 24; },
            ticks: {
              autoSkip: false, padding: 1, color: "#444",
              font: { family: FONT, size: 6 },
              callback: (_v: any, i: number) => FLOW_Y_LABELS[i],
            },
            grid: { display: true, drawOnChartArea: false, tickLength: 3, color: "#555", lineWidth: 0.8 },
            border: { display: true, color: "#666", width: 1 },
          },
        },
      } as any,
      plugins: [frame],
    });
    return () => chart.destroy();
  }, [box]);

  return <canvas ref={ref} width={width} height={height} style={{ position: "absolute", left, top, width, height }} />;
};

const Txt: React.FC<{ x: number; y: number; size: number; bold?: boolean; rotate?: boolean; align?: string; spacing?: number; children: React.ReactNode }> = ({ x, y, size, bold, rotate, align, spacing, children }) => {
  const tx = align === "right" ? "-100%" : align === "left" ? "0" : "-50%";
  return (
    <div
      style={{
        position: "absolute", left: x, top: y, fontSize: size, fontWeight: bold ? 700 : 400,
        lineHeight: 1, whiteSpace: "nowrap", letterSpacing: spacing,
        transform: `translate(${tx}, -50%)${rotate ? " rotate(-90deg)" : ""}`,
      }}
    >
      {children}
    </div>
  );
};

const LETTERS: [string, number, number][] = [
  ["A", 11, 16], ["B", 873, 16], ["C", 1135, 17], ["D", 38, 317], ["E", 420, 317], ["F", 722, 317], ["G", 1073, 317],
  ["H", 39, 688], ["I", 386, 688], ["J", 725, 688], ["K", 39, 1007], ["L", 386, 1007], ["M", 727, 1007],
  ["N", 39, 1247], ["O", 375, 1247], ["P", 699, 1247], ["Q", 39, 1525], ["R", 375, 1525], ["S", 699, 1525],
];
const FLOW_TITLE_POS = [[131, 40], [292, 40], [440, 37], [595, 32], [772, 40]];
const FLOW_PCT_POS = [[161, 80], [322, 78], [464, 80], [632, 78], [820, 80]];
const D_LABEL_Y = [392, 437, 475, 517, 558, 597];
const F_LABEL_Y = [405, 455, 505, 552, 597];
const LEGEND_Y = [669, 714, 759, 803, 848];

export default function App() {
  return (
    <div style={{ position: "absolute", left: 0, top: 0, width: 1419, height: 1751, background: "#fff", fontFamily: FONT, color: "#000", overflow: "hidden" }}>
      {FLOW_BOXES.map((b, i) => <FlowPanel key={"f" + i} box={b} />)}
      {HISTS.map((h, i) => <HistPanel key={"h" + i} h={h} />)}
      {PANELS.map((p, i) => <BarPanel key={"b" + i} p={p} />)}

      {LETTERS.map(([s, x, y]) => <Txt key={s} x={x} y={y} size={24} bold>{s}</Txt>)}

      {FLOW_NAMES.map((n, i) => <Txt key={"ft" + i} x={FLOW_TITLE_POS[i][0]} y={FLOW_TITLE_POS[i][1]} size={28}>{n}</Txt>)}
      {FLOW_PCT.map((n, i) => <Txt key={"fp" + i} x={FLOW_PCT_POS[i][0]} y={FLOW_PCT_POS[i][1]} size={19}>{n}</Txt>)}

      {/* axis arrows of A */}
      <div style={{ position: "absolute", left: 35.5, top: 46, width: 4, height: 74, background: "#000" }} />
      <div style={{ position: "absolute", left: 29.5, top: 30, width: 0, height: 0, borderLeft: "8px solid transparent", borderRight: "8px solid transparent", borderBottom: "18px solid #000" }} />
      <div style={{ position: "absolute", left: 142, top: 220, width: 676, height: 4, background: "#000" }} />
      <div style={{ position: "absolute", left: 816, top: 214, width: 0, height: 0, borderTop: "8px solid transparent", borderBottom: "8px solid transparent", borderLeft: "18px solid #000" }} />
      <Txt x={41} y={196} size={28} rotate>PLZF</Txt>
      <Txt x={92} y={222} size={28}>CCR7</Txt>

      {["Control", "WT", "RIP3-/-", "DKO", "TKO", "RIP1kd"].map((n, i) => <Txt key={"dl" + i} x={381} y={D_LABEL_Y[i]} size={27} align="right">{n}</Txt>)}
      {GROUPS.map((n, i) => <Txt key={"fl" + i} x={1036} y={F_LABEL_Y[i]} size={27} align="right">{n}</Txt>)}

      <Txt x={248} y={670} size={31}>PLZF</Txt>
      <Txt x={905} y={680} size={31}>RoRγT</Txt>

      {GROUPS.map((n, i) => (
        <React.Fragment key={"lg" + i}>
          <div
            style={{
              position: "absolute", left: 1167 - 8, top: LEGEND_Y[i] - 8, width: 16, height: 16, boxSizing: "border-box",
              borderRadius: MARKERS[i].shape === "rect" ? 0 : "50%",
              background: MARKERS[i].fill, border: `2px solid ${MARKERS[i].line}`,
            }}
          />
          <Txt x={1209} y={LEGEND_Y[i]} size={17} align="left" spacing={4}>{n}</Txt>
        </React.Fragment>
      ))}
    </div>
  );
}
